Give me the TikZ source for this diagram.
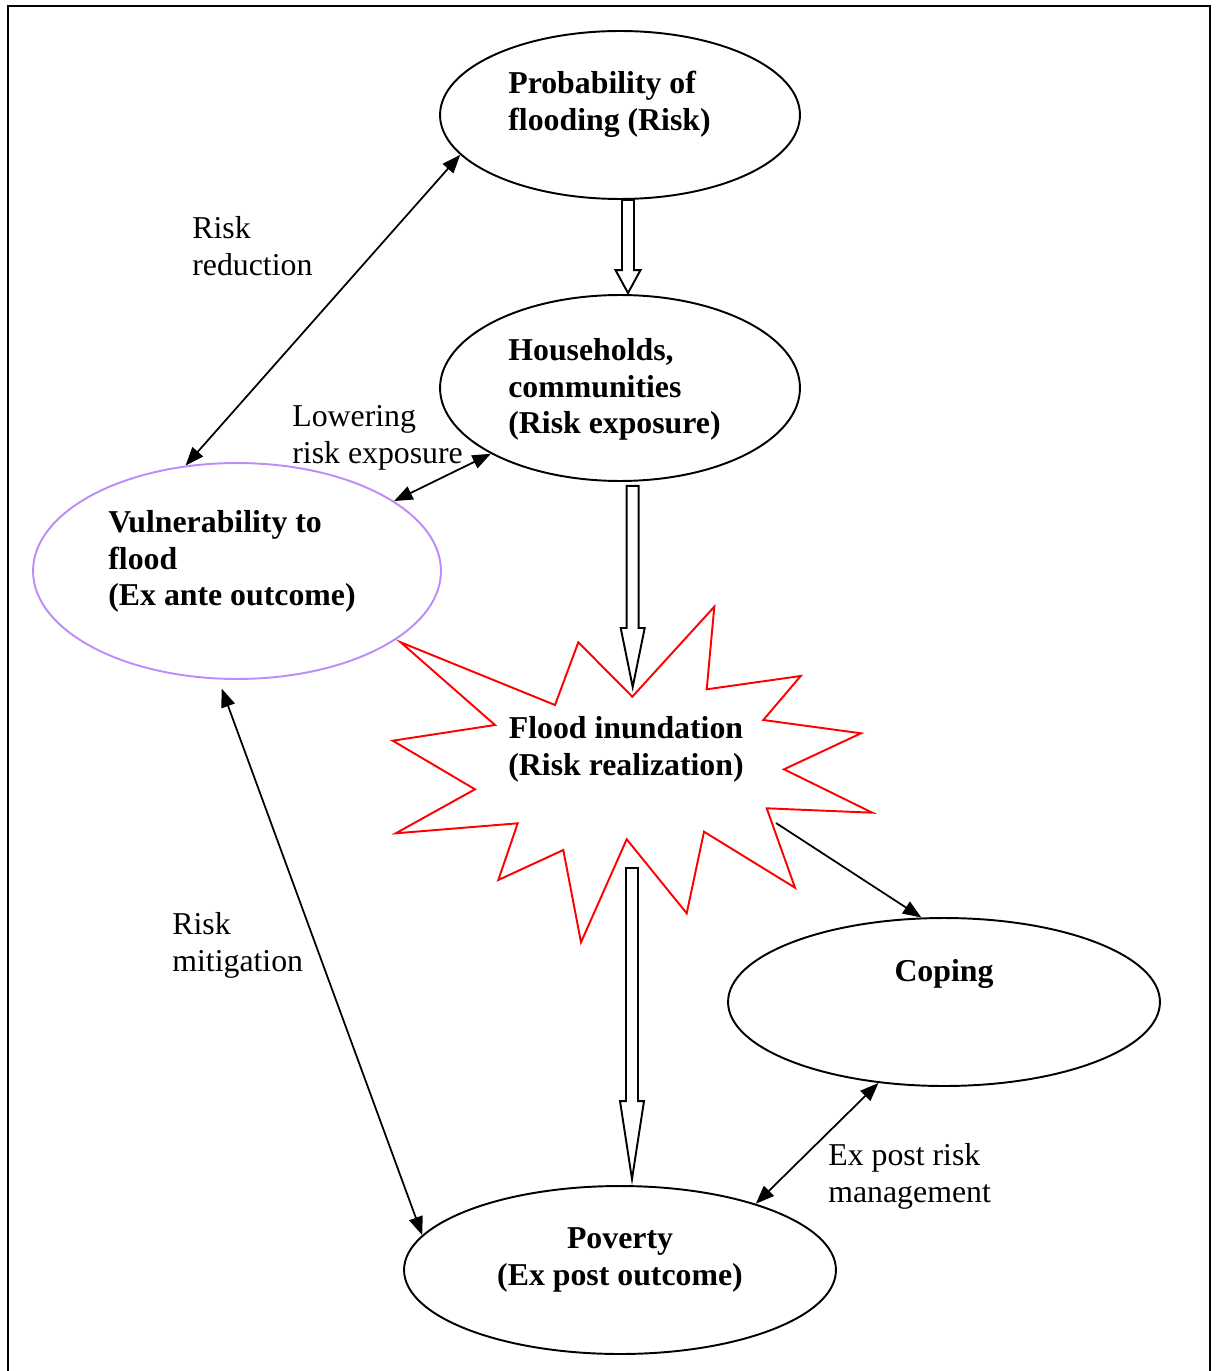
\documentclass[tikz,border=0pt]{standalone}
\usepackage{fontspec}
\setmainfont{Liberation Serif}
\usetikzlibrary{arrows.meta,calc,shapes.geometric}
\definecolor{lilac}{RGB}{190,140,250}
\definecolor{burstred}{RGB}{255,0,0}
\tikzset{
  ell/.style={draw=black, line width=1.1pt, ellipse, inner sep=0pt},
  txt/.style={inner sep=0pt, anchor=north west, align=left, font=\fontsize{18.1}{21}\selectfont},
  btxt/.style={txt, font=\fontsize{18.1}{21}\selectfont\bfseries},
  ctxt/.style={btxt, anchor=north, align=center},
  conn/.style={line width=1pt, {Triangle[length=10.5pt,width=8pt]}-{Triangle[length=10.5pt,width=8pt]}},
  oneway/.style={line width=1pt, -{Triangle[length=10.5pt,width=8pt]}},
  blk/.style={draw=black, line width=1.1pt, fill=white, line join=miter},
  frame/.style={draw=black, line width=1.1pt}
}
\begin{document}
\begin{tikzpicture}[x=0.02cm,y=-0.02cm]
\useasboundingbox (0,0) rectangle (1216,1371);
\draw[frame] (8,1371) -- (8,6) -- (1210,6) -- (1210,1371);

% ellipses
\node[ell, minimum width=7.2cm, minimum height=3.36cm] (prob) at (620,115) {};
\node[ell, minimum width=7.2cm, minimum height=3.72cm] (house) at (620,388) {};
\node[ell, draw=lilac, minimum width=8.16cm, minimum height=4.32cm] (vuln) at (237,571) {};
\node[ell, minimum width=8.64cm, minimum height=3.36cm] (coping) at (944,1002) {};
\node[ell, minimum width=8.64cm, minimum height=3.36cm] (pov) at (620,1270) {};

% starburst
\draw[burstred, line width=1.1pt, line join=miter]
  (400.7,642.3) -- (555,705) -- (578.3,642.3) -- (632.3,696.7) -- (714.3,606.7)
  -- (706.7,689.3) -- (800.7,676) -- (763.3,720) -- (861,733.3) -- (784,769.3)
  -- (872.3,812.7) -- (766.7,808.3) -- (795,887.7) -- (704,831.7) -- (686.7,913.3)
  -- (626.7,839.3) -- (581,942.3) -- (563.3,850) -- (498.3,880) -- (517.7,823.3)
  -- (395.7,833.3) -- (475,789.3) -- (392.7,740.7) -- (495,725) -- cycle;

% node texts
\node[btxt] (tprob) at (508,67) {\strut Probability of\\\strut flooding (Risk)};
\node[btxt] (thouse) at (508,334) {\strut Households,\\\strut communities\\\strut (Risk exposure)};
\node[btxt] (tvuln) at (108,506) {\strut Vulnerability to\\\strut flood\\\strut (Ex ante outcome)};
\node[ctxt] (tflood) at (626,712) {\strut Flood inundation\\\strut (Risk realization)};
\node[ctxt] (tcoping) at (944,955) {\strut Coping};
\node[ctxt] (tpov) at (620,1222) {\strut Poverty\\\strut (Ex post outcome)};

% labels
\node[txt] (lred) at (192,212) {\strut Risk\\\strut reduction};
\node[txt] (llow) at (292,400) {\strut Lowering\\\strut risk exposure};
\node[txt] (lmit) at (172,908) {\strut Risk\\\strut mitigation};
\node[txt] (lexp) at (828,1139) {\strut Ex post risk\\\strut management};

% connectors
\draw[conn] (prob.194.9) -- (vuln.116.6);
\draw[conn] (house.207.6) -- (vuln.24.2);
\draw[conn] ($(vuln.262)+(0,9)$) -- (pov.170.4);
\draw[conn] (coping.231) -- (pov.26.4);
\coordinate (fstart) at (776,823);
\draw[oneway] (fstart) -- (coping.105.4);

% block arrows
\coordinate (a1s) at ($(prob.south)+(8,0)$);
\coordinate (a1e) at ($(house.north)+(8,-1)$);
\draw[blk] ($(a1s)+(-6,0)$) -- ($(a1s)+(6,0)$) -- ($(a1e)+(6,-23)$) -- ($(a1e)+(12.5,-23)$)
  -- (a1e) -- ($(a1e)+(-12.5,-23)$) -- ($(a1e)+(-6,-23)$) -- cycle;
\coordinate (a2s) at ($(house.south)+(12.7,4)$);
\coordinate (a2e) at (632.7,687);
\draw[blk] ($(a2s)+(-6,0)$) -- ($(a2s)+(6,0)$) -- ($(a2e)+(6,-59)$) -- ($(a2e)+(12,-59)$)
  -- (a2e) -- ($(a2e)+(-12,-59)$) -- ($(a2e)+(-6,-59)$) -- cycle;
\coordinate (a3s) at (632,868);
\coordinate (a3e) at ($(pov.north)+(12,-6)$);
\draw[blk] ($(a3s)+(-6,0)$) -- ($(a3s)+(6,0)$) -- ($(a3e)+(6,-78)$) -- ($(a3e)+(12,-78)$)
  -- (a3e) -- ($(a3e)+(-12,-78)$) -- ($(a3e)+(-6,-78)$) -- cycle;
\end{tikzpicture}
\end{document}
